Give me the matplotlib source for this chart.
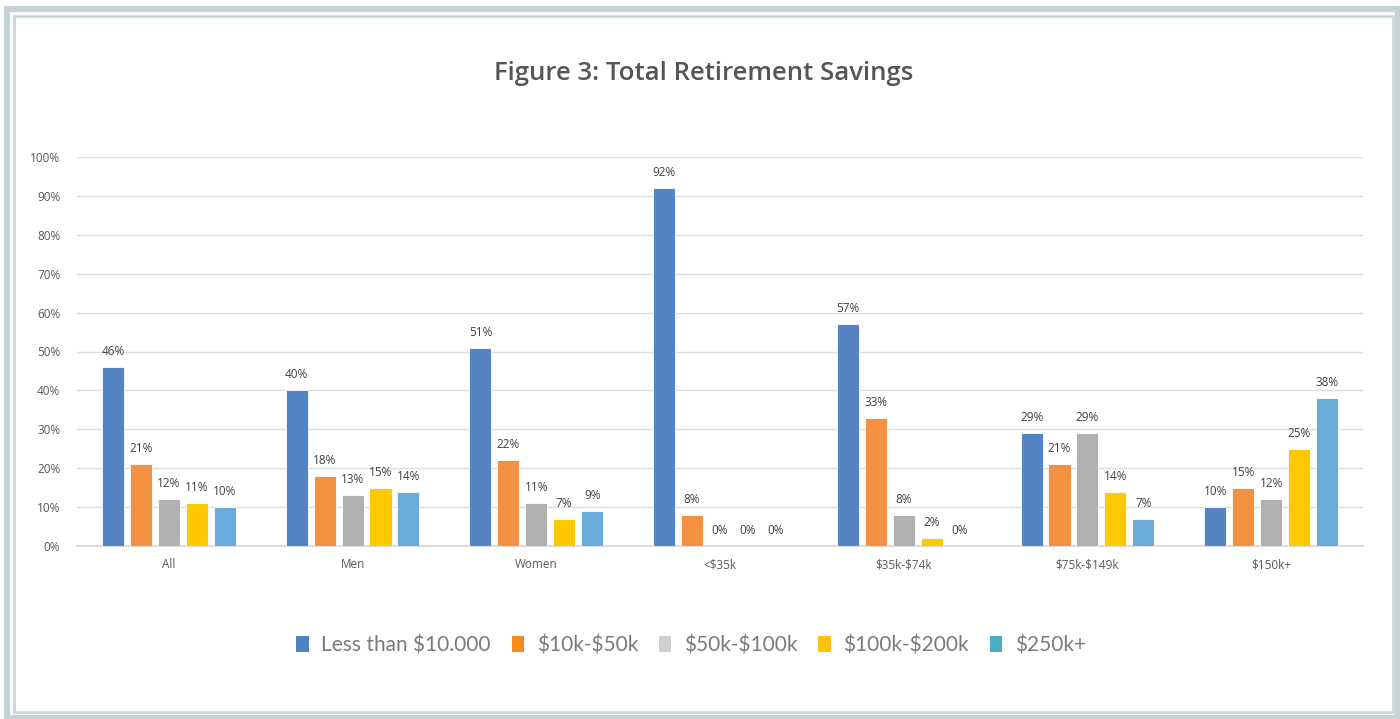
import matplotlib
matplotlib.use("Agg")
import matplotlib.pyplot as plt
import numpy as np
from matplotlib.patches import Rectangle, Patch
from matplotlib.ticker import PercentFormatter

plt.rcParams["text.parse_math"] = False

categories = ["All", "Men", "Women", "<$35k", "$35k-$74k", "$75k-$149k", "$150k+"]
series_names = ["Less than $10.000", "$10k-$50k", "$50k-$100k", "$100k-$200k", "$250k+"]
less_10k = [46, 40, 51, 92, 57, 29, 10]
k10_50 = [21, 18, 22, 8, 33, 21, 15]
k50_100 = [12, 13, 11, 0, 8, 29, 12]
k100_200 = [11, 15, 7, 0, 2, 14, 25]
k250 = [10, 14, 9, 0, 0, 7, 38]
series_values = [less_10k, k10_50, k50_100, k100_200, k250]

bar_colors = ["#5584c4", "#f39141", "#b1b1b1", "#ffc800", "#6aabdc"]
legend_colors = ["#4f81bd", "#f58a1f", "#d0d0d0", "#ffc010", "#4bacc6"]

W, H = 1400, 719
fig = plt.figure(figsize=(W / 100, H / 100), dpi=100)

def px_rect(x0, y0, x1, y1, **kw):
    fig.patches.append(Rectangle((x0 / W, 1 - y1 / H), (x1 - x0) / W, (y1 - y0) / H,
                                 transform=fig.transFigure, fill=False, **kw))

border = "#c6d3d5"
px_rect(7, 8.5, 1397.5, 717.5, edgecolor=border, linewidth=4.5)
px_rect(14, 16, 1393, 712, edgecolor=border, linewidth=1.8)

ax = fig.add_axes([77 / W, 1 - 546 / H, (1363 - 77) / W, (546 - 157) / H])
x = np.arange(len(categories))
pitch = 0.152
width = 0.12
for i, (vals, c) in enumerate(zip(series_values, bar_colors)):
    xs = x + (i - 2) * pitch
    ax.bar(xs, vals, width=width, color=c, edgecolor="white", linewidth=0.6, zorder=3)
    for xi, v in zip(xs, vals):
        ax.text(xi, v + 2.3, f"{v}%", ha="center", va="bottom", fontsize=8.5,
                color="#404040", family="Open Sans")

ax.set_xlim(-0.5, len(categories) - 0.5)
ax.set_ylim(0, 100)
ax.set_yticks(np.arange(0, 101, 10))
ax.yaxis.set_major_formatter(PercentFormatter(decimals=0))
ax.set_xticks(x)
ax.set_xticklabels(categories)
ax.grid(axis="y", color="#dedede", linewidth=1, zorder=0)
for s in ["top", "right", "left"]:
    ax.spines[s].set_visible(False)
ax.spines["bottom"].set_color("#d6d6d6")
ax.spines["bottom"].set_linewidth(1.2)
ax.tick_params(axis="both", length=0, labelsize=8.5, labelcolor="#595959")
ax.tick_params(axis="y", pad=12)
ax.tick_params(axis="x", pad=9)
for lab in ax.get_xticklabels() + ax.get_yticklabels():
    lab.set_family("Open Sans")

fig.text(704 / W, 1 - 73 / H, "Figure 3: Total Retirement Savings", ha="center", va="center",
         fontsize=18.5, color="#555555", family="Open Sans", fontweight="semibold")

handles = [Patch(facecolor=c, edgecolor="none") for c in legend_colors]
leg = fig.legend(handles, series_names, loc="center", bbox_to_anchor=(691 / W, 1 - 645 / H),
                 ncol=5, frameon=False, handlelength=0.6, handleheight=0.8,
                 handletextpad=0.6, columnspacing=1.0,
                 prop={"family": "Lato", "size": 15})
for t in leg.get_texts():
    t.set_color("#7a7a7a")

fig.savefig("out.png", dpi=100)
